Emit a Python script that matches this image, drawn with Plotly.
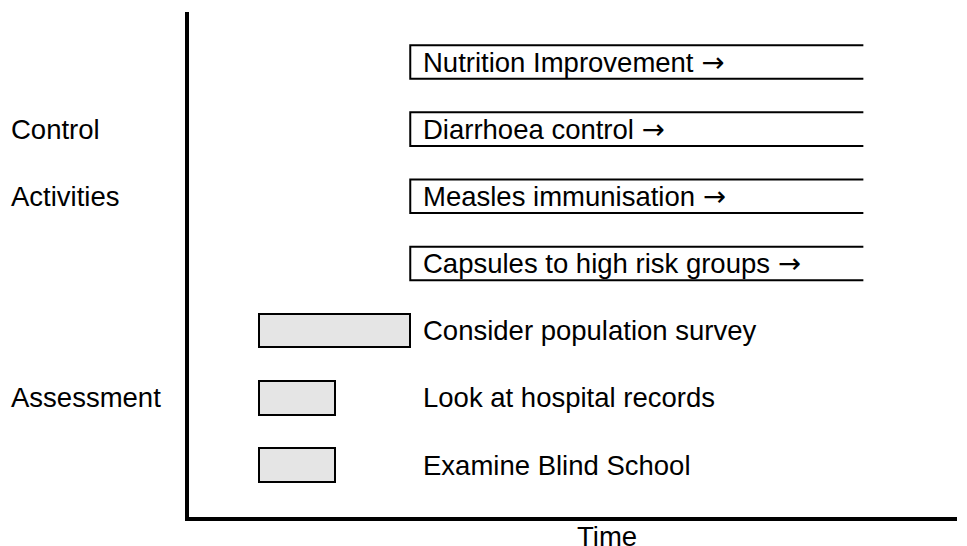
import plotly.graph_objects as go

# ---- data ----
ARROW = ' <span style="font-family:DejaVu Sans">\u2192</span>'
control_tasks = ["Nutrition Improvement", "Diarrhoea control",
                 "Measles immunisation", "Capsules to high risk groups"]
control_start = [3, 3, 3, 3]
control_end = [9, 9, 9, 9]

assess_tasks = ["Consider population survey", "Look at hospital records", "Examine Blind School"]
assess_start = [1, 1, 1]
assess_end = [3, 2, 2]

group_labels = ["Control", "Activities", "Assessment"]
group_rows = [1, 2, 5]

x_title = "Time"

FONT = "Liberation Sans, Arial, sans-serif"
FS = 27.5
H = 0.5  # bar thickness in row units

# page body has an 8px margin: compensate so the figure fills the 967x546 window
PAGE_OFF = 8
W, HGT = 967 - PAGE_OFF, 546 - PAGE_OFF
L, R, T, B = 189 - PAGE_OFF, 10, 12 - PAGE_OFF, 546 - 517
PLOT_W = W - L - R

fig = go.Figure()

rows_control = list(range(len(control_tasks)))
rows_assess = [len(control_tasks) + i for i in range(len(assess_tasks))]

# control activity boxes: open on the right (ongoing)
for r, s, e in zip(rows_control, control_start, control_end):
    fig.add_trace(go.Scatter(
        x=[e, s, s, e], y=[r - H / 2, r - H / 2, r + H / 2, r + H / 2],
        mode="lines", line=dict(color="black", width=2),
        hoverinfo="skip", showlegend=False))

# assessment boxes
fig.add_trace(go.Bar(
    orientation="h",
    y=rows_assess,
    base=assess_start,
    x=[e - s for s, e in zip(assess_start, assess_end)],
    width=H,
    marker=dict(color="#e5e5e5", line=dict(color="black", width=2)),
    showlegend=False, hoverinfo="skip"))

txt_font = dict(size=FS, color="black", family=FONT)
annotations = []
for r, s, t in zip(rows_control, control_start, control_tasks):
    annotations.append(dict(x=s, y=r, xref="x", yref="y", text=t + ARROW, showarrow=False,
                            xanchor="left", xshift=11, font=txt_font))
for r, t in zip(rows_assess, assess_tasks):
    annotations.append(dict(x=3, y=r, xref="x", yref="y", text=t, showarrow=False,
                            xanchor="left", xshift=11, font=txt_font))
for r, t in zip(group_rows, group_labels):
    annotations.append(dict(x=(9 - 189) / PLOT_W, y=r, xref="paper", yref="y", text=t,
                            showarrow=False, xanchor="left", font=txt_font))
annotations.append(dict(x=5.6, y=0, xref="x", yref="paper", text=x_title, showarrow=False,
                        xanchor="center", yanchor="top", yshift=-2, font=txt_font))

fig.update_layout(
    width=W, height=HGT,
    margin=dict(l=L, r=R, t=T, b=B),
    plot_bgcolor="white", paper_bgcolor="white",
    annotations=annotations,
    xaxis=dict(range=[0.07, 10.24], showgrid=False, zeroline=False, showticklabels=False,
               ticks="", showline=True, linecolor="black", linewidth=4, fixedrange=True),
    yaxis=dict(range=[6.774, -0.744], showgrid=False, zeroline=False, showticklabels=False,
               ticks="", showline=True, linecolor="black", linewidth=4, fixedrange=True),
    bargap=0,
)

fig.write_html("out.html")
